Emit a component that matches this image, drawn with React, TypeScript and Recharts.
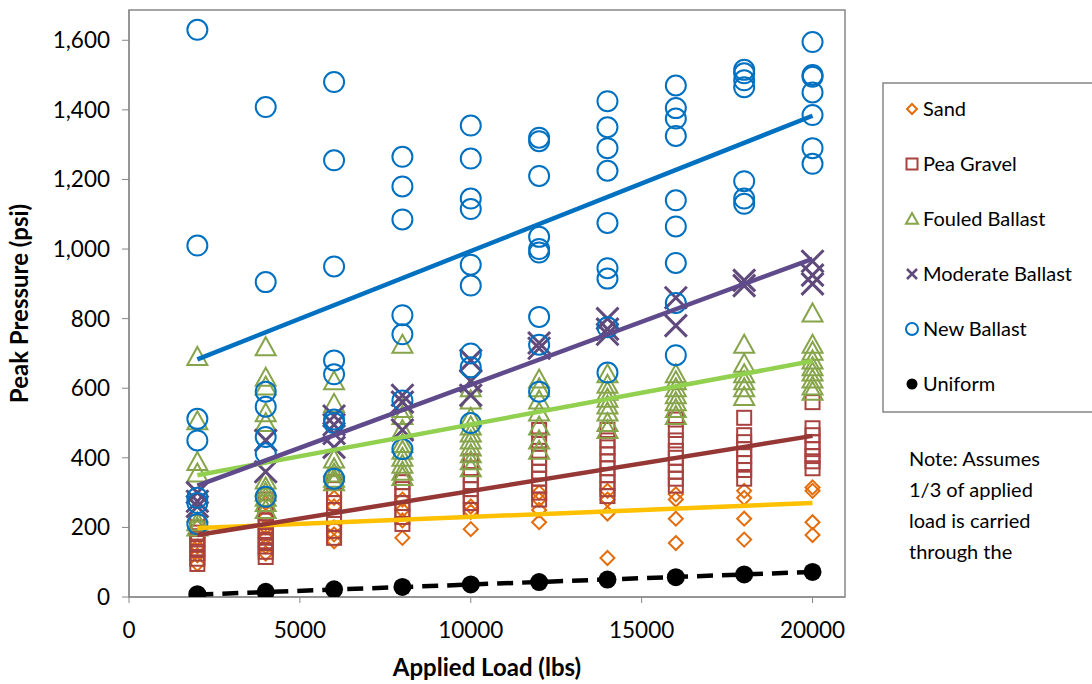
import React from 'react';
import { ScatterChart, Scatter, XAxis, YAxis, ReferenceArea } from 'recharts';

// applied load (lbs) for every column of readings
const loads = [2000, 4000, 6000, 8000, 10000, 12000, 14000, 16000, 18000, 20000];

// peak pressure readings (psi), one row per load
const sand = [
  [95, 120, 145, 170, 200],
  [125, 145, 170, 200, 230, 270],
  [160, 180, 200, 260, 285],
  [170, 220, 250, 280],
  [195, 245, 260],
  [215, 250, 280, 300],
  [112, 240, 280, 305],
  [155, 225, 280, 295],
  [165, 225, 285, 305],
  [178, 215, 305, 315],
];

const peaGravel = [
  [95, 110, 125, 140, 155, 170, 185, 200, 215],
  [115, 130, 145, 160, 175, 190, 205, 220, 240, 260, 280],
  [170, 190, 210, 230, 250, 270, 290, 310, 330],
  [210, 230, 250, 270, 290, 310, 330],
  [250, 270, 290, 310, 330, 350, 370, 390],
  [280, 300, 320, 340, 360, 380, 400, 420, 450, 480],
  [290, 310, 330, 350, 370, 390, 410, 430, 450, 480],
  [320, 340, 360, 380, 400, 420, 450, 480, 510],
  [340, 365, 385, 405, 425, 445, 465, 515],
  [370, 390, 405, 425, 445, 465, 485, 560],
];

const fouled = [
  [690, 505, 388, 355, 240, 215, 200],
  [718, 630, 605, 528, 500, 335, 315, 300, 285, 270, 250],
  [620, 555, 395, 370, 355, 340, 330],
  [725, 540, 520, 480, 440, 420, 400, 380, 360, 345],
  [600, 565, 515, 490, 470, 450, 430, 410, 390, 370],
  [625, 600, 565, 530, 490, 450, 420],
  [640, 610, 590, 570, 550, 530, 500, 480],
  [640, 620, 600, 580, 560, 540, 520],
  [725, 670, 640, 620, 600, 575],
  [815, 725, 705, 680, 660, 645, 625, 605, 590],
];

const moderate = [
  [300, 275, 260],
  [450, 360],
  [520, 495, 470, 430],
  [580, 560, 480],
  [680, 620, 580],
  [730, 715],
  [800, 770, 755],
  [860, 780],
  [910, 895],
  [965, 925, 900],
];

const newBallast = [
  [1630, 1010, 512, 450, 285, 270, 210],
  [1408, 905, 590, 547, 460, 413, 288],
  [1480, 1255, 950, 680, 640, 510, 500, 340],
  [1265, 1180, 1085, 810, 755, 565, 425],
  [1355, 1260, 1145, 1115, 955, 895, 700, 660, 500],
  [1320, 1310, 1210, 1035, 1000, 990, 805, 725, 590],
  [1425, 1350, 1290, 1225, 1075, 945, 915, 775, 645],
  [1470, 1405, 1375, 1325, 1140, 1065, 960, 845, 695],
  [1515, 1505, 1485, 1465, 1195, 1145, 1130],
  [1595, 1500, 1495, 1450, 1385, 1290, 1245],
];

const uniform = [8, 15, 22, 29, 36, 43, 50, 57, 65, 72];

// linear trendlines, read at the first and last load
const trendLoads = [2000, 20000];
const sandTrend = [198, 270];
const peaTrend = [178, 463];
const fouledTrend = [350, 678];
const moderateTrend = [320, 972];
const newTrend = [683, 1383];
const uniformTrend = [7, 72];

const yTicks = [0, 200, 400, 600, 800, 1000, 1200, 1400, 1600];
const xTicks = [0, 5000, 10000, 15000, 20000];

const toPoints = (rows: number[][]) =>
  rows.flatMap((vals, i) => vals.map((v) => ({ x: loads[i], y: v })));
const toLine = (vals: number[]) => vals.map((v, i) => ({ x: trendLoads[i], y: v }));

const C = {
  sand: '#E46C0A',
  pea: '#A8423F',
  fouled: '#86A44A',
  moderate: '#604A7B',
  newB: '#0070C0',
};

const Diamond = (p: any) => {
  const { cx, cy } = p;
  const s = p.s ?? 7;
  return (
    <path
      d={`M${cx},${cy - s}L${cx + s},${cy}L${cx},${cy + s}L${cx - s},${cy}Z`}
      fill="none"
      stroke={C.sand}
      strokeWidth={2}
    />
  );
};

const Square = (p: any) => {
  const { cx, cy } = p;
  const s = p.s ?? 7;
  return <rect x={cx - s} y={cy - s} width={s * 2} height={s * 2} fill="none" stroke={C.pea} strokeWidth={2} />;
};

const Triangle = (p: any) => {
  const { cx, cy } = p;
  const s = p.s ?? 10;
  return (
    <path
      d={`M${cx},${cy - s}L${cx + s},${cy + s * 0.8}L${cx - s},${cy + s * 0.8}Z`}
      fill="none"
      stroke={C.fouled}
      strokeWidth={2}
    />
  );
};

const Cross = (p: any) => {
  const { cx, cy } = p;
  const s = p.s ?? 11;
  return (
    <path
      d={`M${cx - s},${cy - s}L${cx + s},${cy + s}M${cx - s},${cy + s}L${cx + s},${cy - s}`}
      stroke={C.moderate}
      strokeWidth={p.w ?? 3}
    />
  );
};

const Ring = (p: any) => (
  <circle cx={p.cx} cy={p.cy} r={p.s ?? 10} fill="none" stroke={C.newB} strokeWidth={2} />
);

const Dot = (p: any) => <circle cx={p.cx} cy={p.cy} r={p.s ?? 9} fill="#000" />;

const Nothing = () => <g />;

const legendItems = [
  { name: 'Sand', Shape: Diamond, s: 5 },
  { name: 'Pea Gravel', Shape: Square, s: 5.5 },
  { name: 'Fouled Ballast', Shape: Triangle, s: 6 },
  { name: 'Moderate Ballast', Shape: Cross, s: 5, w: 2.5 },
  { name: 'New Ballast', Shape: Ring, s: 6 },
  { name: 'Uniform', Shape: Dot, s: 5.5 },
];

function LegendBox() {
  return (
    <svg
      width={212}
      height={332}
      style={{ position: 'absolute', left: 882, top: 82 }}
    >
      <rect x={1} y={1} width={220} height={329} fill="#fff" stroke="#868686" strokeWidth={1.5} />
      {legendItems.map((it, i) => {
        const cy = 27 + i * 55;
        const { Shape } = it;
        return (
          <g key={it.name}>
            <Shape cx={30} cy={cy} s={it.s} w={it.w} />
            <text x={41} y={cy} dy="0.36em" fontSize={20} fill="#000">
              {it.name}
            </text>
          </g>
        );
      })}
    </svg>
  );
}

const tickStyle = { fontSize: 22.5, fill: '#000', fontFamily: 'Lato' };

export default function App() {
  return (
    <div
      style={{
        position: 'absolute',
        left: 0,
        top: 0,
        width: 1092,
        height: 684,
        background: '#fff',
        fontFamily: 'Lato',
      }}
    >
      <ScatterChart width={1092} height={684} margin={{ top: 10, right: 247, bottom: 0, left: 0 }}>
        <XAxis
          type="number"
          dataKey="x"
          domain={[0, 20950]}
          ticks={xTicks}
          allowDataOverflow
          height={87}
          tick={tickStyle}
          tickSize={6}
          tickMargin={19}
          stroke="#868686"
          label={{
            value: 'Applied Load (lbs)',
            position: 'center',
            dy: 27,
            style: { fontSize: 24, fontWeight: 700, fill: '#000' },
          }}
        />
        <YAxis
          type="number"
          dataKey="y"
          domain={[0, 1687]}
          ticks={yTicks}
          allowDataOverflow
          width={129}
          tick={tickStyle}
          tickSize={7}
          tickMargin={12}
          stroke="#868686"
          tickFormatter={(v: number) => v.toLocaleString('en-US')}
          label={{
            value: 'Peak Pressure (psi)',
            position: 'center',
            angle: -90,
            dx: -45,
            style: { fontSize: 24, fontWeight: 700, fill: '#000', textAnchor: 'middle' },
          }}
        />
        <ReferenceArea x1={0} x2={20950} y1={0} y2={1687} fill="none" stroke="#868686" strokeWidth={1.5} />

        <Scatter data={toPoints(sand)} shape={Diamond} isAnimationActive={false} />
        <Scatter data={toPoints(peaGravel)} shape={Square} isAnimationActive={false} />
        <Scatter data={toPoints(fouled)} shape={Triangle} isAnimationActive={false} />
        <Scatter data={toPoints(moderate)} shape={Cross} isAnimationActive={false} />
        <Scatter data={toPoints(newBallast)} shape={Ring} isAnimationActive={false} />
        <Scatter data={loads.map((x, i) => ({ x, y: uniform[i] }))} shape={Dot} isAnimationActive={false} />

        <Scatter data={toLine(sandTrend)} line={{ stroke: '#FFC000', strokeWidth: 4.5 }} shape={Nothing} isAnimationActive={false} />
        <Scatter data={toLine(peaTrend)} line={{ stroke: '#953735', strokeWidth: 4.5 }} shape={Nothing} isAnimationActive={false} />
        <Scatter data={toLine(fouledTrend)} line={{ stroke: '#92D050', strokeWidth: 4.5 }} shape={Nothing} isAnimationActive={false} />
        <Scatter data={toLine(moderateTrend)} line={{ stroke: '#5F4B8B', strokeWidth: 4.5 }} shape={Nothing} isAnimationActive={false} />
        <Scatter data={toLine(newTrend)} line={{ stroke: '#0070C0', strokeWidth: 4.5 }} shape={Nothing} isAnimationActive={false} />
        <Scatter
          data={toLine(uniformTrend)}
          line={{ stroke: '#000', strokeWidth: 4.5, strokeDasharray: '16 9' }}
          shape={Nothing}
          isAnimationActive={false}
        />
      </ScatterChart>
      <LegendBox />
      <div
        style={{
          position: 'absolute',
          left: 909,
          top: 443,
          fontSize: 20,
          lineHeight: '31px',
          color: '#000',
        }}
      >
        Note: Assumes
        <br />
        1/3 of applied
        <br />
        load is carried
        <br />
        through the
      </div>
    </div>
  );
}
